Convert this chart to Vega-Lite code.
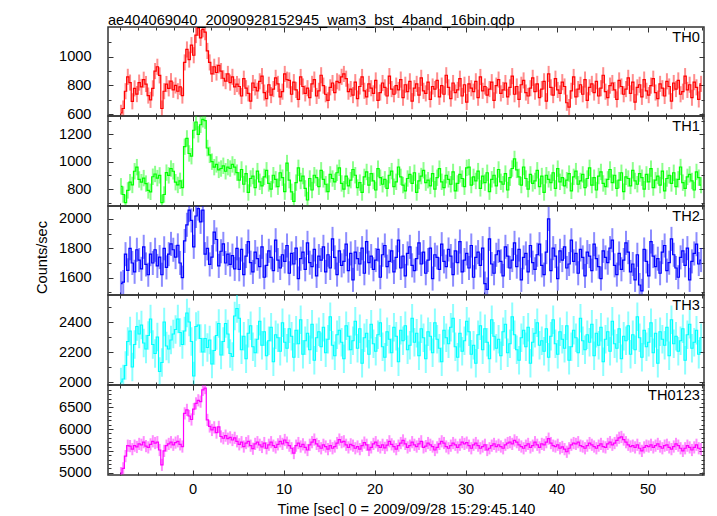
{
"$schema": "https://vega.github.io/schema/vega-lite/v6.json",
"background": "white",
"padding": {"left": 33, "top": 12, "right": 15, "bottom": 0},
"autosize": {"type": "pad"},
"spacing": 0,
"bounds": "flush",
"config": {
 "view": {"stroke": "#333333", "strokeWidth": 1.5},
 "font": "Liberation Sans",
 "axis": {"domain": false, "grid": false, "tickColor": "#333333", "tickWidth": 1, "labelFont": "Liberation Sans", "labelFontSize": 14.6, "labelColor": "#000000", "titleFont": "Liberation Sans", "titleFontSize": 14.6, "titleFontWeight": "normal", "titleColor": "#000000", "labelFlush": false, "labelOverlap": false, "format": "d"},
 "axisLeft": {"labelPadding": 22},
 "axisBottom": {"labelPadding": 11.5, "titlePadding": 5},
 "title": {"font": "Liberation Sans", "fontSize": 14.6, "fontWeight": "normal", "color": "#000000"}
},
"datasets": {
"err": [{"k":"a","err":56},{"k":"b","err":60},{"k":"c","err":82},{"k":"d","err":95},{"k":"e","err":140}],
"lc": [
{"t":-7.875,"a":610,"b":820,"c":1560,"d":2000,"e":4990},
{"t":-7.625,"a":640,"b":760,"c":1570,"d":2020,"e":5100},
{"t":-7.375,"a":760,"b":700,"c":1760,"d":2110,"e":5380},
{"t":-7.125,"a":860,"b":790,"c":1650,"d":2270,"e":5620},
{"t":-6.875,"a":820,"b":850,"c":1800,"d":2340,"e":5610},
{"t":-6.625,"a":690,"b":830,"c":1700,"d":2100,"e":5540},
{"t":-6.375,"a":780,"b":930,"c":1640,"d":2250,"e":5620},
{"t":-6.125,"a":740,"b":960,"c":1790,"d":2370,"e":5590},
{"t":-5.875,"a":820,"b":870,"c":1720,"d":2320,"e":5660},
{"t":-5.625,"a":790,"b":850,"c":1660,"d":2380,"e":5640},
{"t":-5.375,"a":840,"b":880,"c":1810,"d":2260,"e":5700},
{"t":-5.125,"a":810,"b":840,"c":1690,"d":2220,"e":5610},
{"t":-4.875,"a":730,"b":790,"c":1620,"d":2310,"e":5580},
{"t":-4.625,"a":700,"b":780,"c":1760,"d":2420,"e":5650},
{"t":-4.375,"a":780,"b":890,"c":1700,"d":2250,"e":5720},
{"t":-4.125,"a":900,"b":910,"c":1790,"d":2190,"e":5680},
{"t":-3.875,"a":930,"b":880,"c":1680,"d":2300,"e":5700},
{"t":-3.625,"a":870,"b":900,"c":1740,"d":2070,"e":5520},
{"t":-3.375,"a":640,"b":700,"c":1620,"d":2130,"e":5180},
{"t":-3.125,"a":760,"b":760,"c":1800,"d":2400,"e":5500},
{"t":-2.875,"a":810,"b":920,"c":1670,"d":2240,"e":5620},
{"t":-2.625,"a":780,"b":900,"c":1760,"d":2220,"e":5660},
{"t":-2.375,"a":830,"b":950,"c":1830,"d":2280,"e":5700},
{"t":-2.125,"a":770,"b":930,"c":1790,"d":2320,"e":5640},
{"t":-1.875,"a":800,"b":850,"c":1740,"d":2350,"e":5690},
{"t":-1.625,"a":760,"b":830,"c":1820,"d":2420,"e":5720},
{"t":-1.375,"a":790,"b":860,"c":1700,"d":2330,"e":5650},
{"t":-1.125,"a":730,"b":810,"c":1600,"d":2250,"e":5600},
{"t":-0.875,"a":960,"b":1110,"c":1850,"d":2340,"e":6360},
{"t":-0.625,"a":1050,"b":1170,"c":1960,"d":2460,"e":6440},
{"t":-0.375,"a":980,"b":1060,"c":2060,"d":2400,"e":6300},
{"t":-0.125,"a":1080,"b":1040,"c":1990,"d":2270,"e":6220},
{"t":0.125,"a":1010,"b":1230,"c":1810,"d":2040,"e":6460},
{"t":0.375,"a":1150,"b":1290,"c":2020,"d":2370,"e":6590},
{"t":0.625,"a":1200,"b":1200,"c":2070,"d":2380,"e":6660},
{"t":0.875,"a":1130,"b":1270,"c":1980,"d":2290,"e":6630},
{"t":1.125,"a":1190,"b":1310,"c":2060,"d":2200,"e":6900},
{"t":1.375,"a":1170,"b":1300,"c":1760,"d":2290,"e":6940},
{"t":1.625,"a":1040,"b":1100,"c":1800,"d":2230,"e":6210},
{"t":1.875,"a":960,"b":1050,"c":1690,"d":2280,"e":6060},
{"t":2.125,"a":880,"b":1000,"c":1740,"d":2120,"e":5980},
{"t":2.375,"a":930,"b":960,"c":1910,"d":2210,"e":6040},
{"t":2.625,"a":890,"b":980,"c":1860,"d":2310,"e":5920},
{"t":2.875,"a":940,"b":940,"c":1680,"d":2390,"e":6050},
{"t":3.125,"a":900,"b":950,"c":1780,"d":2180,"e":5830},
{"t":3.375,"a":850,"b":970,"c":1830,"d":2270,"e":5790},
{"t":3.625,"a":830,"b":930,"c":1700,"d":2390,"e":5850},
{"t":3.875,"a":880,"b":960,"c":1760,"d":2320,"e":5780},
{"t":4.125,"a":820,"b":950,"c":1690,"d":2190,"e":5810},
{"t":4.375,"a":860,"b":980,"c":1750,"d":2170,"e":5750},
{"t":4.625,"a":790,"b":960,"c":1660,"d":2440,"e":5800},
{"t":4.875,"a":810,"b":920,"c":1800,"d":2490,"e":5720},
{"t":5.125,"a":793,"b":865,"c":1657,"d":2425,"e":5650},
{"t":5.375,"a":727,"b":943,"c":1792,"d":2215,"e":5700},
{"t":5.625,"a":847,"b":835,"c":1621,"d":2305,"e":5600},
{"t":5.875,"a":781,"b":913,"c":1747,"d":2155,"e":5680},
{"t":6.125,"a":745,"b":775,"c":1846,"d":2325,"e":5720},
{"t":6.375,"a":691,"b":877,"c":1702,"d":2375,"e":5620},
{"t":6.625,"a":817,"b":895,"c":1639,"d":2235,"e":5550},
{"t":6.875,"a":787,"b":811,"c":1774,"d":2195,"e":5660},
{"t":7.125,"a":763,"b":931,"c":1729,"d":2285,"e":5700},
{"t":7.375,"a":829,"b":853,"c":1675,"d":2405,"e":5640},
{"t":7.625,"a":865,"b":823,"c":1810,"d":2245,"e":5590},
{"t":7.875,"a":751,"b":889,"c":1603,"d":2335,"e":5680},
{"t":8.125,"a":709,"b":937,"c":1684,"d":2175,"e":5560},
{"t":8.375,"a":805,"b":841,"c":1783,"d":2275,"e":5640},
{"t":8.625,"a":733,"b":799,"c":1738,"d":2365,"e":5700},
{"t":8.875,"a":775,"b":901,"c":1648,"d":2135,"e":5620},
{"t":9.125,"a":853,"b":871,"c":1855,"d":2315,"e":5580},
{"t":9.375,"a":811,"b":817,"c":1720,"d":2295,"e":5650},
{"t":9.625,"a":721,"b":919,"c":1666,"d":2205,"e":5720},
{"t":9.875,"a":757,"b":883,"c":1756,"d":2395,"e":5660},
{"t":10.125,"a":880,"b":781,"c":1711,"d":2265,"e":5750},
{"t":10.375,"a":840,"b":990,"c":1819,"d":2225,"e":5690},
{"t":10.625,"a":835,"b":865,"c":1630,"d":2355,"e":5620},
{"t":10.875,"a":739,"b":780,"c":1765,"d":2305,"e":5560},
{"t":11.125,"a":823,"b":710,"c":1693,"d":2165,"e":5450},
{"t":11.375,"a":769,"b":847,"c":1801,"d":2345,"e":5620},
{"t":11.625,"a":703,"b":955,"c":1594,"d":2255,"e":5680},
{"t":11.875,"a":859,"b":859,"c":1729,"d":2415,"e":5600},
{"t":12.125,"a":793,"b":895,"c":1774,"d":2185,"e":5650},
{"t":12.375,"a":745,"b":805,"c":1657,"d":2275,"e":5580},
{"t":12.625,"a":781,"b":720,"c":1837,"d":2325,"e":5520},
{"t":12.875,"a":715,"b":877,"c":1702,"d":2215,"e":5640},
{"t":13.125,"a":811,"b":793,"c":1675,"d":2385,"e":5700},
{"t":13.375,"a":841,"b":901,"c":1792,"d":2145,"e":5760},
{"t":13.625,"a":727,"b":883,"c":1612,"d":2295,"e":5660},
{"t":13.875,"a":763,"b":817,"c":1747,"d":2335,"e":5610},
{"t":14.125,"a":871,"b":937,"c":1720,"d":2235,"e":5560},
{"t":14.375,"a":799,"b":871,"c":1810,"d":2365,"e":5640},
{"t":14.625,"a":739,"b":835,"c":1639,"d":2195,"e":5600},
{"t":14.875,"a":697,"b":781,"c":1756,"d":2285,"e":5540},
{"t":15.125,"a":787,"b":907,"c":1666,"d":2435,"e":5620},
{"t":15.375,"a":817,"b":877,"c":1864,"d":2245,"e":5560},
{"t":15.625,"a":751,"b":853,"c":1738,"d":2175,"e":5600},
{"t":15.875,"a":829,"b":919,"c":1621,"d":2315,"e":5680},
{"t":16.125,"a":820,"b":955,"c":1783,"d":2345,"e":5760},
{"t":16.375,"a":860,"b":841,"c":1684,"d":2265,"e":5700},
{"t":16.625,"a":880,"b":799,"c":1711,"d":2155,"e":5720},
{"t":16.875,"a":847,"b":895,"c":1828,"d":2375,"e":5640},
{"t":17.125,"a":757,"b":823,"c":1648,"d":2305,"e":5580},
{"t":17.375,"a":775,"b":865,"c":1765,"d":2215,"e":5650},
{"t":17.625,"a":733,"b":943,"c":1585,"d":2275,"e":5620},
{"t":17.875,"a":823,"b":901,"c":1774,"d":2405,"e":5560},
{"t":18.125,"a":709,"b":811,"c":1729,"d":2225,"e":5600},
{"t":18.375,"a":793,"b":847,"c":1693,"d":2355,"e":5540},
{"t":18.625,"a":859,"b":775,"c":1801,"d":2125,"e":5620},
{"t":18.875,"a":763,"b":889,"c":1630,"d":2295,"e":5690},
{"t":19.125,"a":721,"b":925,"c":1846,"d":2325,"e":5640},
{"t":19.375,"a":811,"b":829,"c":1702,"d":2185,"e":5520},
{"t":19.625,"a":781,"b":913,"c":1747,"d":2385,"e":5580},
{"t":19.875,"a":745,"b":859,"c":1657,"d":2255,"e":5660},
{"t":20.125,"a":835,"b":793,"c":1720,"d":2205,"e":5700},
{"t":20.375,"a":697,"b":949,"c":1792,"d":2315,"e":5620},
{"t":20.625,"a":751,"b":883,"c":1603,"d":2395,"e":5580},
{"t":20.875,"a":817,"b":835,"c":1756,"d":2235,"e":5640},
{"t":21.125,"a":787,"b":871,"c":1819,"d":2165,"e":5570},
{"t":21.375,"a":727,"b":805,"c":1675,"d":2335,"e":5630},
{"t":21.625,"a":865,"b":901,"c":1711,"d":2285,"e":5720},
{"t":21.875,"a":775,"b":931,"c":1783,"d":2195,"e":5650},
{"t":22.125,"a":739,"b":817,"c":1639,"d":2365,"e":5600},
{"t":22.375,"a":799,"b":853,"c":1738,"d":2305,"e":5540},
{"t":22.625,"a":769,"b":961,"c":1855,"d":2135,"e":5620},
{"t":22.875,"a":841,"b":889,"c":1666,"d":2345,"e":5680},
{"t":23.125,"a":715,"b":829,"c":1747,"d":2275,"e":5740},
{"t":23.375,"a":805,"b":787,"c":1612,"d":2375,"e":5660},
{"t":23.625,"a":757,"b":877,"c":1765,"d":2215,"e":5580},
{"t":23.875,"a":829,"b":907,"c":1810,"d":2245,"e":5620},
{"t":24.125,"a":691,"b":841,"c":1684,"d":2425,"e":5700},
{"t":24.375,"a":781,"b":919,"c":1648,"d":2265,"e":5640},
{"t":24.625,"a":811,"b":775,"c":1729,"d":2325,"e":5600},
{"t":24.875,"a":733,"b":859,"c":1837,"d":2175,"e":5660},
{"t":25.125,"a":853,"b":895,"c":1693,"d":2355,"e":5720},
{"t":25.375,"a":763,"b":937,"c":1774,"d":2295,"e":5580},
{"t":25.625,"a":745,"b":847,"c":1630,"d":2155,"e":5610},
{"t":25.875,"a":823,"b":865,"c":1720,"d":2335,"e":5680},
{"t":26.125,"a":703,"b":823,"c":1801,"d":2305,"e":5640},
{"t":26.375,"a":793,"b":913,"c":1594,"d":2195,"e":5600},
{"t":26.625,"a":775,"b":799,"c":1756,"d":2395,"e":5520},
{"t":26.875,"a":835,"b":883,"c":1738,"d":2285,"e":5580},
{"t":27.125,"a":721,"b":949,"c":1657,"d":2225,"e":5660},
{"t":27.375,"a":799,"b":853,"c":1828,"d":2135,"e":5720},
{"t":27.625,"a":739,"b":811,"c":1711,"d":2345,"e":5680},
{"t":27.875,"a":871,"b":901,"c":1675,"d":2295,"e":5600},
{"t":28.125,"a":787,"b":871,"c":1792,"d":2255,"e":5560},
{"t":28.375,"a":709,"b":835,"c":1747,"d":2365,"e":5620},
{"t":28.625,"a":817,"b":925,"c":1621,"d":2425,"e":5680},
{"t":28.875,"a":751,"b":787,"c":1783,"d":2235,"e":5640},
{"t":29.125,"a":769,"b":841,"c":1702,"d":2165,"e":5580},
{"t":29.375,"a":847,"b":907,"c":1846,"d":2325,"e":5640},
{"t":29.625,"a":727,"b":877,"c":1639,"d":2205,"e":5700},
{"t":29.875,"a":805,"b":817,"c":1720,"d":2275,"e":5660},
{"t":30.125,"a":685,"b":955,"c":1765,"d":2405,"e":5690},
{"t":30.375,"a":811,"b":960,"c":1666,"d":2335,"e":5620},
{"t":30.625,"a":781,"b":829,"c":1819,"d":2185,"e":5560},
{"t":30.875,"a":757,"b":889,"c":1603,"d":2245,"e":5640},
{"t":31.125,"a":829,"b":859,"c":1738,"d":2125,"e":5680},
{"t":31.375,"a":715,"b":931,"c":1774,"d":2315,"e":5620},
{"t":31.625,"a":859,"b":805,"c":1684,"d":2375,"e":5560},
{"t":31.875,"a":763,"b":895,"c":1801,"d":2215,"e":5600},
{"t":32.125,"a":793,"b":847,"c":1560,"d":2355,"e":5640},
{"t":32.375,"a":733,"b":919,"c":1520,"d":2265,"e":5520},
{"t":32.625,"a":775,"b":781,"c":1864,"d":2155,"e":5560},
{"t":32.875,"a":823,"b":871,"c":1693,"d":2415,"e":5620},
{"t":33.125,"a":697,"b":901,"c":1630,"d":2305,"e":5660},
{"t":33.375,"a":799,"b":823,"c":1756,"d":2225,"e":5600},
{"t":33.625,"a":841,"b":943,"c":1783,"d":2285,"e":5640},
{"t":33.875,"a":745,"b":853,"c":1711,"d":2175,"e":5600},
{"t":34.125,"a":769,"b":835,"c":1612,"d":2335,"e":5560},
{"t":34.375,"a":817,"b":913,"c":1810,"d":2385,"e":5640},
{"t":34.625,"a":721,"b":793,"c":1747,"d":2195,"e":5680},
{"t":34.875,"a":787,"b":883,"c":1666,"d":2255,"e":5700},
{"t":35.125,"a":865,"b":950,"c":1720,"d":2435,"e":5660},
{"t":35.375,"a":739,"b":1020,"c":1837,"d":2315,"e":5740},
{"t":35.625,"a":793,"b":940,"c":1675,"d":2215,"e":5700},
{"t":35.875,"a":703,"b":889,"c":1792,"d":2145,"e":5640},
{"t":36.125,"a":805,"b":829,"c":1585,"d":2295,"e":5600},
{"t":36.375,"a":835,"b":961,"c":1738,"d":2345,"e":5560},
{"t":36.625,"a":751,"b":877,"c":1765,"d":2235,"e":5620},
{"t":36.875,"a":727,"b":799,"c":1639,"d":2365,"e":5660},
{"t":37.125,"a":781,"b":907,"c":1819,"d":2125,"e":5580},
{"t":37.375,"a":853,"b":841,"c":1702,"d":2265,"e":5620},
{"t":37.625,"a":757,"b":859,"c":1657,"d":2325,"e":5700},
{"t":37.875,"a":811,"b":937,"c":1756,"d":2395,"e":5640},
{"t":38.125,"a":715,"b":817,"c":1828,"d":2245,"e":5580},
{"t":38.375,"a":775,"b":895,"c":1684,"d":2275,"e":5660},
{"t":38.625,"a":829,"b":775,"c":1621,"d":2205,"e":5640},
{"t":38.875,"a":691,"b":901,"c":1774,"d":2355,"e":5700},
{"t":39.125,"a":880,"b":871,"c":2000,"d":2165,"e":5780},
{"t":39.375,"a":787,"b":847,"c":1648,"d":2305,"e":5680},
{"t":39.625,"a":733,"b":919,"c":1801,"d":2415,"e":5620},
{"t":39.875,"a":847,"b":805,"c":1747,"d":2255,"e":5600},
{"t":40.125,"a":769,"b":949,"c":1594,"d":2185,"e":5640},
{"t":40.375,"a":745,"b":853,"c":1783,"d":2335,"e":5560},
{"t":40.625,"a":823,"b":883,"c":1720,"d":2285,"e":5590},
{"t":40.875,"a":793,"b":823,"c":1810,"d":2225,"e":5540},
{"t":41.125,"a":680,"b":865,"c":1666,"d":2375,"e":5480},
{"t":41.375,"a":650,"b":913,"c":1693,"d":2145,"e":5560},
{"t":41.625,"a":763,"b":787,"c":1855,"d":2235,"e":5640},
{"t":41.875,"a":859,"b":889,"c":1711,"d":2345,"e":5680},
{"t":42.125,"a":721,"b":931,"c":1765,"d":2295,"e":5660},
{"t":42.375,"a":775,"b":835,"c":1630,"d":2195,"e":5700},
{"t":42.625,"a":805,"b":859,"c":1792,"d":2425,"e":5620},
{"t":42.875,"a":739,"b":907,"c":1738,"d":2275,"e":5600},
{"t":43.125,"a":841,"b":811,"c":1612,"d":2215,"e":5560},
{"t":43.375,"a":697,"b":877,"c":1774,"d":2315,"e":5620},
{"t":43.625,"a":787,"b":955,"c":1747,"d":2265,"e":5680},
{"t":43.875,"a":811,"b":829,"c":1648,"d":2385,"e":5640},
{"t":44.125,"a":751,"b":883,"c":1828,"d":2175,"e":5600},
{"t":44.375,"a":829,"b":793,"c":1729,"d":2325,"e":5560},
{"t":44.625,"a":727,"b":895,"c":1675,"d":2245,"e":5620},
{"t":44.875,"a":781,"b":925,"c":1594,"d":2365,"e":5660},
{"t":45.125,"a":871,"b":841,"c":1783,"d":2135,"e":5600},
{"t":45.375,"a":757,"b":817,"c":1738,"d":2285,"e":5580},
{"t":45.625,"a":715,"b":871,"c":1702,"d":2335,"e":5660},
{"t":45.875,"a":799,"b":943,"c":1801,"d":2205,"e":5700},
{"t":46.125,"a":817,"b":847,"c":1855,"d":2405,"e":5640},
{"t":46.375,"a":769,"b":901,"c":1684,"d":2255,"e":5680},
{"t":46.625,"a":703,"b":805,"c":1621,"d":2225,"e":5740},
{"t":46.875,"a":835,"b":865,"c":1765,"d":2355,"e":5800},
{"t":47.125,"a":793,"b":919,"c":1657,"d":2155,"e":5820},
{"t":47.375,"a":739,"b":781,"c":1720,"d":2305,"e":5760},
{"t":47.625,"a":775,"b":889,"c":1837,"d":2275,"e":5700},
{"t":47.875,"a":853,"b":877,"c":1774,"d":2375,"e":5640},
{"t":48.125,"a":745,"b":823,"c":1639,"d":2185,"e":5600},
{"t":48.375,"a":823,"b":937,"c":1693,"d":2315,"e":5620},
{"t":48.625,"a":685,"b":859,"c":1585,"d":2215,"e":5580},
{"t":48.875,"a":787,"b":835,"c":1756,"d":2435,"e":5640},
{"t":49.125,"a":805,"b":913,"c":1550,"d":2295,"e":5560},
{"t":49.375,"a":721,"b":883,"c":1510,"d":2165,"e":5500},
{"t":49.625,"a":841,"b":799,"c":1792,"d":2345,"e":5580},
{"t":49.875,"a":763,"b":907,"c":1711,"d":2235,"e":5620},
{"t":50.125,"a":733,"b":853,"c":1612,"d":2265,"e":5600},
{"t":50.375,"a":799,"b":949,"c":1846,"d":2395,"e":5640},
{"t":50.625,"a":847,"b":811,"c":1747,"d":2195,"e":5580},
{"t":50.875,"a":751,"b":865,"c":1675,"d":2325,"e":5620},
{"t":51.125,"a":709,"b":895,"c":1729,"d":2125,"e":5660},
{"t":51.375,"a":811,"b":829,"c":1630,"d":2335,"e":5600},
{"t":51.625,"a":781,"b":931,"c":1774,"d":2285,"e":5560},
{"t":51.875,"a":727,"b":787,"c":1819,"d":2245,"e":5620},
{"t":52.125,"a":829,"b":877,"c":1648,"d":2365,"e":5640},
{"t":52.375,"a":793,"b":901,"c":1702,"d":2175,"e":5580},
{"t":52.625,"a":691,"b":841,"c":1864,"d":2415,"e":5540},
{"t":52.875,"a":817,"b":919,"c":1756,"d":2255,"e":5600},
{"t":53.125,"a":775,"b":817,"c":1666,"d":2305,"e":5660},
{"t":53.375,"a":835,"b":871,"c":1603,"d":2205,"e":5620},
{"t":53.625,"a":739,"b":961,"c":1738,"d":2275,"e":5560},
{"t":53.875,"a":757,"b":847,"c":1783,"d":2355,"e":5500},
{"t":54.125,"a":865,"b":805,"c":1684,"d":2145,"e":5560},
{"t":54.375,"a":769,"b":889,"c":1801,"d":2315,"e":5620},
{"t":54.625,"a":805,"b":907,"c":1585,"d":2385,"e":5580},
{"t":54.875,"a":715,"b":859,"c":1711,"d":2225,"e":5520},
{"t":55.125,"a":823,"b":793,"c":1765,"d":2265,"e":5580},
{"t":55.375,"a":787,"b":925,"c":1828,"d":2345,"e":5640},
{"t":55.625,"a":703,"b":883,"c":1693,"d":2185,"e":5560},
{"t":55.875,"a":811,"b":829,"c":1720,"d":2295,"e":5540}
]
},
"vconcat": [
{
 "title": {"text": "ae404069040_20090928152945_wam3_bst_4band_16bin.qdp", "anchor": "start", "frame": "group", "offset": -13, "baseline": "alphabetic"},
 "width": 596, "height": 89,
 "data": {"name": "lc"},
 "layer": [
  {"transform": [{"fold": ["a"], "as": ["k", "v"]}, {"lookup": "k", "from": {"data": {"name": "err"}, "key": "k", "fields": ["err"]}}],
   "mark": {"type": "errorbar", "color": "#ff0000", "opacity": 0.45, "thickness": 2, "clip": true},
   "encoding": {
    "x": {"field": "t", "type": "quantitative", "scale": {"domain": [-9.3, 56.2], "nice": false, "zero": false}, "axis": {"orient": "bottom", "values": [0,10,20,30,40,50], "tickSize": -5, "labels": false, "title": null}},
    "y": {"field": "v", "type": "quantitative", "scale": {"domain": [588, 1206], "nice": false, "zero": false, "clamp": true}, "axis": {"orient": "left", "values": [600,800,1000], "tickSize": -5, "title": null}},
    "yError": {"field": "err"}}},
  {"mark": {"type": "line", "interpolate": "step", "color": "#ff0000", "strokeWidth": 1.2, "clip": true},
   "encoding": {
    "x": {"field": "t", "type": "quantitative", "scale": {"domain": [-9.3, 56.2], "nice": false, "zero": false}, "axis": {"orient": "top", "values": [0,10,20,30,40,50], "tickSize": -5, "labels": false, "title": null}},
    "y": {"field": "a", "type": "quantitative", "scale": {"domain": [588, 1206], "nice": false, "zero": false, "clamp": true}, "axis": {"orient": "right", "values": [600,800,1000], "tickSize": -5, "labels": false, "title": null}}}},
  {"data": {"values": [{}]},
   "mark": {"type": "text", "text": "TH0", "align": "right", "baseline": "middle", "font": "Liberation Sans", "fontSize": 14.6, "color": "#000000"},
   "encoding": {
    "x": {"datum": 55.75, "type": "quantitative", "scale": {"domain": [-9.3, 56.2], "nice": false, "zero": false}, "axis": {"orient": "bottom", "values": [-8,-6,-4,-2,2,4,6,8,12,14,16,18,22,24,26,28,32,34,36,38,42,44,46,48,52,54,56], "tickSize": -3, "labels": false, "title": null}},
    "y": {"datum": 1130, "type": "quantitative", "scale": {"domain": [588, 1206], "nice": false, "zero": false}, "axis": {"orient": "left", "values": [700,900,1100], "tickSize": -3, "labels": false, "title": null}}}},
  {"data": {"values": [{}]},
   "mark": {"type": "point", "opacity": 0},
   "encoding": {
    "x": {"datum": 0, "type": "quantitative", "scale": {"domain": [-9.3, 56.2], "nice": false, "zero": false}, "axis": {"orient": "top", "values": [-8,-6,-4,-2,2,4,6,8,12,14,16,18,22,24,26,28,32,34,36,38,42,44,46,48,52,54,56], "tickSize": -3, "labels": false, "title": null}},
    "y": {"datum": 800, "type": "quantitative", "scale": {"domain": [588, 1206], "nice": false, "zero": false}, "axis": {"orient": "right", "values": [700,900,1100], "tickSize": -3, "labels": false, "title": null}}}}
 ],
 "resolve": {"scale": {"x": "independent", "y": "independent"}}
},
{
 "width": 596, "height": 90,
 "data": {"name": "lc"},
 "layer": [
  {"transform": [{"fold": ["b"], "as": ["k", "v"]}, {"lookup": "k", "from": {"data": {"name": "err"}, "key": "k", "fields": ["err"]}}],
   "mark": {"type": "errorbar", "color": "#00ff00", "opacity": 0.45, "thickness": 2, "clip": true},
   "encoding": {
    "x": {"field": "t", "type": "quantitative", "scale": {"domain": [-9.3, 56.2], "nice": false, "zero": false}, "axis": {"orient": "bottom", "values": [0,10,20,30,40,50], "tickSize": -5, "labels": false, "title": null}},
    "y": {"field": "v", "type": "quantitative", "scale": {"domain": [676, 1334], "nice": false, "zero": false, "clamp": true}, "axis": {"orient": "left", "values": [800,1000,1200], "tickSize": -5, "title": null}},
    "yError": {"field": "err"}}},
  {"mark": {"type": "line", "interpolate": "step", "color": "#00ff00", "strokeWidth": 1.2, "clip": true},
   "encoding": {
    "x": {"field": "t", "type": "quantitative", "scale": {"domain": [-9.3, 56.2], "nice": false, "zero": false}, "axis": {"orient": "top", "values": [0,10,20,30,40,50], "tickSize": -5, "labels": false, "title": null}},
    "y": {"field": "b", "type": "quantitative", "scale": {"domain": [676, 1334], "nice": false, "zero": false, "clamp": true}, "axis": {"orient": "right", "values": [800,1000,1200], "tickSize": -5, "labels": false, "title": null}}}},
  {"data": {"values": [{}]},
   "mark": {"type": "text", "text": "TH1", "align": "right", "baseline": "middle", "font": "Liberation Sans", "fontSize": 14.6, "color": "#000000"},
   "encoding": {
    "x": {"datum": 55.75, "type": "quantitative", "scale": {"domain": [-9.3, 56.2], "nice": false, "zero": false}, "axis": {"orient": "bottom", "values": [-8,-6,-4,-2,2,4,6,8,12,14,16,18,22,24,26,28,32,34,36,38,42,44,46,48,52,54,56], "tickSize": -3, "labels": false, "title": null}},
    "y": {"datum": 1254, "type": "quantitative", "scale": {"domain": [676, 1334], "nice": false, "zero": false}, "axis": {"orient": "left", "values": [700,900,1100,1300], "tickSize": -3, "labels": false, "title": null}}}},
  {"data": {"values": [{}]},
   "mark": {"type": "point", "opacity": 0},
   "encoding": {
    "x": {"datum": 0, "type": "quantitative", "scale": {"domain": [-9.3, 56.2], "nice": false, "zero": false}, "axis": {"orient": "top", "values": [-8,-6,-4,-2,2,4,6,8,12,14,16,18,22,24,26,28,32,34,36,38,42,44,46,48,52,54,56], "tickSize": -3, "labels": false, "title": null}},
    "y": {"datum": 900, "type": "quantitative", "scale": {"domain": [676, 1334], "nice": false, "zero": false}, "axis": {"orient": "right", "values": [700,900,1100,1300], "tickSize": -3, "labels": false, "title": null}}}}
 ],
 "resolve": {"scale": {"x": "independent", "y": "independent"}}
},
{
 "width": 596, "height": 89,
 "data": {"name": "lc"},
 "layer": [
  {"transform": [{"fold": ["c"], "as": ["k", "v"]}, {"lookup": "k", "from": {"data": {"name": "err"}, "key": "k", "fields": ["err"]}}],
   "mark": {"type": "errorbar", "color": "#0000ff", "opacity": 0.45, "thickness": 2, "clip": true},
   "encoding": {
    "x": {"field": "t", "type": "quantitative", "scale": {"domain": [-9.3, 56.2], "nice": false, "zero": false}, "axis": {"orient": "bottom", "values": [0,10,20,30,40,50], "tickSize": -5, "labels": false, "title": null}},
    "y": {"field": "v", "type": "quantitative", "scale": {"domain": [1482, 2088], "nice": false, "zero": false, "clamp": true}, "axis": {"orient": "left", "values": [1600,1800,2000], "tickSize": -5, "title": "Counts/sec", "titleX": -66, "titleY": 51, "titleBaseline": "middle", "titleAngle": 270}},
    "yError": {"field": "err"}}},
  {"mark": {"type": "line", "interpolate": "step", "color": "#0000ff", "strokeWidth": 1.2, "clip": true},
   "encoding": {
    "x": {"field": "t", "type": "quantitative", "scale": {"domain": [-9.3, 56.2], "nice": false, "zero": false}, "axis": {"orient": "top", "values": [0,10,20,30,40,50], "tickSize": -5, "labels": false, "title": null}},
    "y": {"field": "c", "type": "quantitative", "scale": {"domain": [1482, 2088], "nice": false, "zero": false, "clamp": true}, "axis": {"orient": "right", "values": [1600,1800,2000], "tickSize": -5, "labels": false, "title": null}}}},
  {"data": {"values": [{}]},
   "mark": {"type": "text", "text": "TH2", "align": "right", "baseline": "middle", "font": "Liberation Sans", "fontSize": 14.6, "color": "#000000"},
   "encoding": {
    "x": {"datum": 55.75, "type": "quantitative", "scale": {"domain": [-9.3, 56.2], "nice": false, "zero": false}, "axis": {"orient": "bottom", "values": [-8,-6,-4,-2,2,4,6,8,12,14,16,18,22,24,26,28,32,34,36,38,42,44,46,48,52,54,56], "tickSize": -3, "labels": false, "title": null}},
    "y": {"datum": 2013, "type": "quantitative", "scale": {"domain": [1482, 2088], "nice": false, "zero": false}, "axis": {"orient": "left", "values": [1500,1700,1900], "tickSize": -3, "labels": false, "title": null}}}},
  {"data": {"values": [{}]},
   "mark": {"type": "point", "opacity": 0},
   "encoding": {
    "x": {"datum": 0, "type": "quantitative", "scale": {"domain": [-9.3, 56.2], "nice": false, "zero": false}, "axis": {"orient": "top", "values": [-8,-6,-4,-2,2,4,6,8,12,14,16,18,22,24,26,28,32,34,36,38,42,44,46,48,52,54,56], "tickSize": -3, "labels": false, "title": null}},
    "y": {"datum": 1700, "type": "quantitative", "scale": {"domain": [1482, 2088], "nice": false, "zero": false}, "axis": {"orient": "right", "values": [1500,1700,1900], "tickSize": -3, "labels": false, "title": null}}}}
 ],
 "resolve": {"scale": {"x": "independent", "y": "independent"}}
},
{
 "width": 596, "height": 90,
 "data": {"name": "lc"},
 "layer": [
  {"transform": [{"fold": ["d"], "as": ["k", "v"]}, {"lookup": "k", "from": {"data": {"name": "err"}, "key": "k", "fields": ["err"]}}],
   "mark": {"type": "errorbar", "color": "#00ffff", "opacity": 0.45, "thickness": 2, "clip": true},
   "encoding": {
    "x": {"field": "t", "type": "quantitative", "scale": {"domain": [-9.3, 56.2], "nice": false, "zero": false}, "axis": {"orient": "bottom", "values": [0,10,20,30,40,50], "tickSize": -5, "labels": false, "title": null}},
    "y": {"field": "v", "type": "quantitative", "scale": {"domain": [1980, 2580], "nice": false, "zero": false, "clamp": true}, "axis": {"orient": "left", "values": [2000,2200,2400], "tickSize": -5, "title": null}},
    "yError": {"field": "err"}}},
  {"mark": {"type": "line", "interpolate": "step", "color": "#00ffff", "strokeWidth": 1.2, "clip": true},
   "encoding": {
    "x": {"field": "t", "type": "quantitative", "scale": {"domain": [-9.3, 56.2], "nice": false, "zero": false}, "axis": {"orient": "top", "values": [0,10,20,30,40,50], "tickSize": -5, "labels": false, "title": null}},
    "y": {"field": "d", "type": "quantitative", "scale": {"domain": [1980, 2580], "nice": false, "zero": false, "clamp": true}, "axis": {"orient": "right", "values": [2000,2200,2400], "tickSize": -5, "labels": false, "title": null}}}},
  {"data": {"values": [{}]},
   "mark": {"type": "text", "text": "TH3", "align": "right", "baseline": "middle", "font": "Liberation Sans", "fontSize": 14.6, "color": "#000000"},
   "encoding": {
    "x": {"datum": 55.75, "type": "quantitative", "scale": {"domain": [-9.3, 56.2], "nice": false, "zero": false}, "axis": {"orient": "bottom", "values": [-8,-6,-4,-2,2,4,6,8,12,14,16,18,22,24,26,28,32,34,36,38,42,44,46,48,52,54,56], "tickSize": -3, "labels": false, "title": null}},
    "y": {"datum": 2507, "type": "quantitative", "scale": {"domain": [1980, 2580], "nice": false, "zero": false}, "axis": {"orient": "left", "values": [2100,2300,2500], "tickSize": -3, "labels": false, "title": null}}}},
  {"data": {"values": [{}]},
   "mark": {"type": "point", "opacity": 0},
   "encoding": {
    "x": {"datum": 0, "type": "quantitative", "scale": {"domain": [-9.3, 56.2], "nice": false, "zero": false}, "axis": {"orient": "top", "values": [-8,-6,-4,-2,2,4,6,8,12,14,16,18,22,24,26,28,32,34,36,38,42,44,46,48,52,54,56], "tickSize": -3, "labels": false, "title": null}},
    "y": {"datum": 2200, "type": "quantitative", "scale": {"domain": [1980, 2580], "nice": false, "zero": false}, "axis": {"orient": "right", "values": [2100,2300,2500], "tickSize": -3, "labels": false, "title": null}}}}
 ],
 "resolve": {"scale": {"x": "independent", "y": "independent"}}
},
{
 "width": 596, "height": 90,
 "data": {"name": "lc"},
 "layer": [
  {"transform": [{"fold": ["e"], "as": ["k", "v"]}, {"lookup": "k", "from": {"data": {"name": "err"}, "key": "k", "fields": ["err"]}}],
   "mark": {"type": "errorbar", "color": "#ff00ff", "opacity": 0.45, "thickness": 2, "clip": true},
   "encoding": {
    "x": {"field": "t", "type": "quantitative", "scale": {"domain": [-9.3, 56.2], "nice": false, "zero": false}, "axis": {"orient": "bottom", "values": [0,10,20,30,40,50], "tickSize": -5, "labels": true, "title": "Time [sec] 0 = 2009/09/28 15:29:45.140"}},
    "y": {"field": "v", "type": "quantitative", "scale": {"domain": [4947, 7011], "nice": false, "zero": false, "clamp": true}, "axis": {"orient": "left", "values": [5000,5500,6000,6500], "tickSize": -5, "title": null}},
    "yError": {"field": "err"}}},
  {"mark": {"type": "line", "interpolate": "step", "color": "#ff00ff", "strokeWidth": 1.2, "clip": true},
   "encoding": {
    "x": {"field": "t", "type": "quantitative", "scale": {"domain": [-9.3, 56.2], "nice": false, "zero": false}, "axis": {"orient": "top", "values": [0,10,20,30,40,50], "tickSize": -5, "labels": false, "title": null}},
    "y": {"field": "e", "type": "quantitative", "scale": {"domain": [4947, 7011], "nice": false, "zero": false, "clamp": true}, "axis": {"orient": "right", "values": [5000,5500,6000,6500], "tickSize": -5, "labels": false, "title": null}}}},
  {"data": {"values": [{}]},
   "mark": {"type": "text", "text": "TH0123", "align": "right", "baseline": "middle", "font": "Liberation Sans", "fontSize": 14.6, "color": "#000000"},
   "encoding": {
    "x": {"datum": 55.75, "type": "quantitative", "scale": {"domain": [-9.3, 56.2], "nice": false, "zero": false}, "axis": {"orient": "bottom", "values": [-8,-6,-4,-2,2,4,6,8,12,14,16,18,22,24,26,28,32,34,36,38,42,44,46,48,52,54,56], "tickSize": -3, "labels": false, "title": null}},
    "y": {"datum": 6759, "type": "quantitative", "scale": {"domain": [4947, 7011], "nice": false, "zero": false}, "axis": {"orient": "left", "values": [5100,5200,5300,5400,5600,5700,5800,5900,6100,6200,6300,6400,6600,6700,6800,6900,7000], "tickSize": -3, "labels": false, "title": null}}}},
  {"data": {"values": [{}]},
   "mark": {"type": "point", "opacity": 0},
   "encoding": {
    "x": {"datum": 0, "type": "quantitative", "scale": {"domain": [-9.3, 56.2], "nice": false, "zero": false}, "axis": {"orient": "top", "values": [-8,-6,-4,-2,2,4,6,8,12,14,16,18,22,24,26,28,32,34,36,38,42,44,46,48,52,54,56], "tickSize": -3, "labels": false, "title": null}},
    "y": {"datum": 5600, "type": "quantitative", "scale": {"domain": [4947, 7011], "nice": false, "zero": false}, "axis": {"orient": "right", "values": [5100,5200,5300,5400,5600,5700,5800,5900,6100,6200,6300,6400,6600,6700,6800,6900,7000], "tickSize": -3, "labels": false, "title": null}}}}
 ],
 "resolve": {"scale": {"x": "independent", "y": "independent"}}
}
]
}
